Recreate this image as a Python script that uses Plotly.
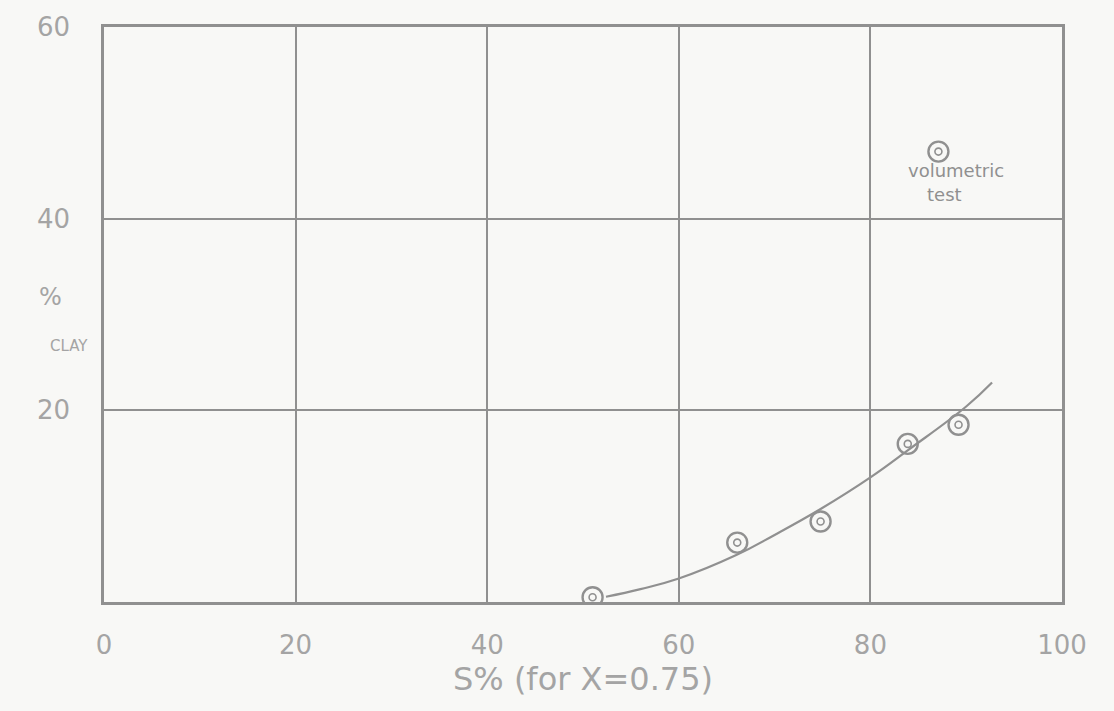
import plotly.graph_objects as go

# Measured samples: saturation S% against clay content %
s_pct = [51.0, 66.1, 74.8, 83.9, 89.2]
clay_pct = [0.5, 6.2, 8.4, 16.5, 18.5]

# Hand-faired trend curve through the samples
curve_s = [52.4, 56.0, 60.0, 66.0, 70.0, 74.8, 80.0, 84.0, 90.0, 92.7]
curve_clay = [0.55, 1.35, 2.45, 4.9, 7.0, 9.7, 13.0, 15.9, 20.4, 22.9]

# Key marker for the volumetric test symbol
key_s = [87.1]
key_clay = [47.0]

x_ticks = [0, 20, 40, 60, 80, 100]
y_ticks = [20, 40, 60]

pencil = "#909090"
label_grey = "#a4a4a4"
bg = "#f8f8f6"
font_family = "DejaVu Sans"


def ringed_marker(xs, ys):
    """Pencil 'bullseye' symbol: an outer ring with a small inner ring."""
    outer = go.Scatter(
        x=xs, y=ys, mode="markers", hoverinfo="skip", showlegend=False,
        marker=dict(symbol="circle-open", size=20, color=pencil,
                    line=dict(color=pencil, width=2.4)),
    )
    inner = go.Scatter(
        x=xs, y=ys, mode="markers", showlegend=False,
        marker=dict(symbol="circle-open", size=7, color=pencil,
                    line=dict(color=pencil, width=1.6)),
    )
    return [outer, inner]


fig = go.Figure()

fig.add_trace(go.Scatter(
    x=curve_s, y=curve_clay, mode="lines",
    line=dict(color=pencil, width=2.2, shape="spline", smoothing=1.2),
    hoverinfo="skip", showlegend=False,
))

for tr in ringed_marker(s_pct, clay_pct):
    fig.add_trace(tr)
for tr in ringed_marker(key_s, key_clay):
    fig.add_trace(tr)

fig.add_annotation(x=key_s[0] + 1.8, y=key_clay[0] - 2.0, text="volumetric",
                   showarrow=False, font=dict(family=font_family, size=18, color=pencil))
fig.add_annotation(x=key_s[0] + 0.6, y=key_clay[0] - 4.5, text="test",
                   showarrow=False, font=dict(family=font_family, size=18, color=pencil))

# Y-axis caption drawn as two stacked words
fig.add_annotation(xref="paper", yref="paper", x=-0.07, y=0.53, text="%",
                   showarrow=False, font=dict(family=font_family, size=24, color=label_grey))
fig.add_annotation(xref="paper", yref="paper", x=-0.058, y=0.445, text="CLAY",
                   showarrow=False, font=dict(family=font_family, size=15, color=label_grey))

fig.update_layout(
    width=1114, height=711,
    margin=dict(l=104, r=52, t=25, b=109),
    paper_bgcolor=bg, plot_bgcolor=bg,
    font=dict(family=font_family, color=label_grey),
    xaxis=dict(
        range=[0, 100], tickvals=x_ticks, ticktext=[str(v) for v in x_ticks],
        showgrid=True, gridcolor=pencil, gridwidth=2,
        showline=True, linecolor=pencil, linewidth=2.5, mirror=True,
        zeroline=False, ticks="", ticklabelstandoff=18,
        tickfont=dict(size=26, color=label_grey),
        title=dict(text="S% (for X=0.75)", standoff=8,
                   font=dict(size=32, color=label_grey)),
    ),
    yaxis=dict(
        range=[0, 60], tickvals=y_ticks, ticktext=[str(v) for v in y_ticks],
        showgrid=True, gridcolor=pencil, gridwidth=2,
        showline=True, linecolor=pencil, linewidth=2.5, mirror=True,
        zeroline=False, ticks="", ticklabelstandoff=26,
        tickfont=dict(size=26, color=label_grey),
    ),
)

fig.write_html("out.html")
